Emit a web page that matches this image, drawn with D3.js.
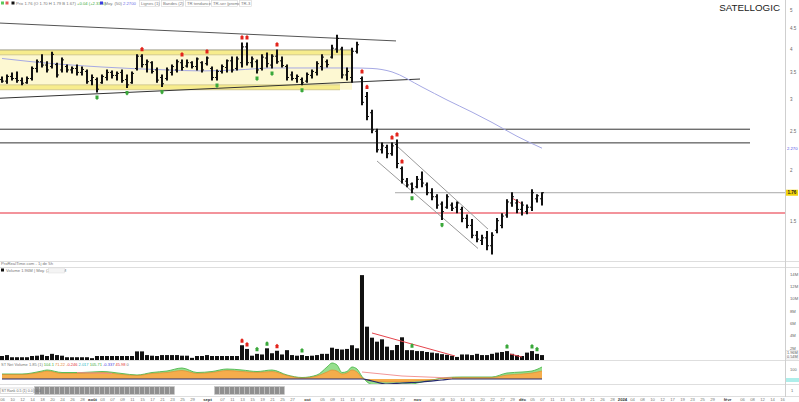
<!DOCTYPE html>
<html>
<head>
<meta charset="utf-8">
<script src="https://cdn.jsdelivr.net/npm/d3@7"></script>
<style>
body { margin: 0; background: #fff; }
svg { display: block; font-family: "Liberation Sans", Arial, sans-serif; }
</style>
</head>
<body>
<svg id="chart" width="799" height="402"></svg>
<script>
// ---- data ----
const ticker = "SATELLOGIC";

const opens = [3.36,3.33,3.42,3.38,3.34,3.30,3.38,3.58,3.72,3.65,
  3.62,3.66,3.55,3.62,3.55,3.58,3.50,3.52,3.34,3.36,
  3.30,3.40,3.50,3.44,3.50,3.36,3.30,3.58,3.84,3.66,
  3.70,3.55,3.40,3.38,3.50,3.55,3.70,3.63,3.70,3.62,
  3.70,3.68,3.58,3.40,3.52,3.60,3.74,3.58,3.70,4.05,
  3.70,3.72,3.58,3.80,3.65,3.84,3.74,3.62,3.45,3.38,
  3.36,3.33,3.44,3.50,3.62,3.72,3.82,4.00,4.00,3.45,
  3.40,3.95,3.38,3.05,2.78,2.50,2.25,2.28,2.20,2.32,
  2.02,1.88,1.85,1.82,1.90,1.84,1.76,1.72,1.65,1.62,
  1.64,1.62,1.60,1.52,1.46,1.38,1.34,1.36,1.30,1.42,
  1.46,1.55,1.66,1.66,1.60,1.58,1.62,1.70,1.70];
const highs = [3.41,3.45,3.49,3.51,3.39,3.41,3.61,3.76,3.87,3.72,
  3.93,3.69,3.80,3.65,3.61,3.65,3.61,3.55,3.45,3.39,
  3.45,3.55,3.53,3.51,3.55,3.45,3.51,3.87,3.87,3.76,
  3.72,3.59,3.45,3.59,3.65,3.76,3.76,3.76,3.72,3.80,
  3.72,3.82,3.61,3.55,3.65,3.76,3.82,3.82,4.14,4.14,
  3.82,3.76,3.87,3.91,3.87,3.98,3.82,3.65,3.51,3.45,
  3.39,3.49,3.55,3.72,3.87,3.76,4.09,4.33,4.04,3.59,
  4.02,4.16,3.41,3.12,2.82,2.53,2.34,2.31,2.34,2.38,
  2.04,1.91,1.86,1.93,1.98,1.86,1.80,1.74,1.67,1.74,
  1.66,1.67,1.62,1.55,1.51,1.41,1.38,1.41,1.40,1.52,
  1.56,1.69,1.76,1.69,1.67,1.64,1.79,1.74,1.76];
const lows = [3.31,3.29,3.35,3.31,3.26,3.29,3.35,3.51,3.61,3.51,
  3.59,3.41,3.51,3.51,3.49,3.45,3.45,3.29,3.26,3.13,
  3.29,3.35,3.39,3.35,3.31,3.21,3.29,3.55,3.61,3.51,
  3.49,3.31,3.23,3.35,3.45,3.51,3.55,3.61,3.59,3.55,
  3.51,3.65,3.35,3.35,3.49,3.51,3.51,3.55,3.61,3.65,
  3.61,3.49,3.55,3.61,3.59,3.69,3.61,3.35,3.35,3.31,
  3.26,3.31,3.39,3.45,3.55,3.61,3.80,3.93,3.39,3.35,
  3.31,3.91,2.91,2.67,2.48,2.22,2.21,2.15,2.18,2.03,
  1.86,1.82,1.76,1.81,1.82,1.74,1.69,1.61,1.51,1.61,
  1.59,1.57,1.49,1.44,1.36,1.33,1.31,1.27,1.24,1.40,
  1.44,1.53,1.63,1.57,1.55,1.56,1.59,1.67,1.64];
const closes = [3.33,3.42,3.38,3.34,3.29,3.38,3.58,3.72,3.65,3.55,
  3.88,3.45,3.76,3.55,3.58,3.50,3.56,3.32,3.40,3.18,
  3.42,3.50,3.44,3.48,3.34,3.26,3.48,3.84,3.66,3.72,
  3.52,3.35,3.28,3.55,3.62,3.72,3.60,3.70,3.62,3.78,
  3.55,3.80,3.40,3.52,3.62,3.74,3.55,3.78,4.05,3.70,
  3.78,3.55,3.82,3.68,3.84,3.72,3.64,3.40,3.38,3.42,
  3.30,3.46,3.52,3.68,3.82,3.66,4.02,4.25,3.45,3.52,
  3.95,4.10,2.95,2.72,2.52,2.25,2.30,2.20,2.30,2.08,
  1.90,1.84,1.80,1.90,1.86,1.76,1.72,1.64,1.58,1.72,
  1.61,1.66,1.52,1.46,1.38,1.35,1.36,1.30,1.38,1.50,
  1.54,1.67,1.72,1.60,1.64,1.62,1.76,1.73,1.76];

// volume, millions
const volumes = [0.65,0.80,0.45,0.45,0.45,0.45,0.65,0.70,0.85,0.65,
  1.00,0.80,0.70,0.45,0.45,0.45,0.45,0.45,0.30,0.65,
  0.65,0.65,0.65,0.65,0.65,0.65,0.65,1.40,1.40,0.80,
  0.70,0.65,0.80,0.80,0.80,0.80,0.70,0.70,0.35,0.65,
  0.65,0.80,0.65,0.65,0.65,0.65,0.65,0.65,2.40,1.80,
  0.70,1.00,0.90,1.90,1.10,1.50,0.90,1.60,0.80,0.70,
  0.80,0.65,0.70,0.80,1.00,1.00,2.00,1.80,1.70,1.80,
  2.40,1.90,13.8,5.42,3.63,2.98,3.36,2.17,1.60,2.44,
  3.69,1.60,1.60,1.45,1.45,1.30,1.20,1.10,0.95,0.85,
  0.70,0.50,0.90,0.90,0.80,1.00,0.80,0.80,1.00,1.20,
  1.30,1.45,1.00,0.80,0.65,1.20,1.45,1.00,0.80];

// moving average, read at a few bars
const maBars = [0, 6, 20, 33, 40, 47, 54, 70, 74, 78, 84, 89, 94, 98, 103, 108];
const maValues = [3.79, 3.72, 3.61, 3.55, 3.53, 3.55, 3.59, 3.59, 3.58, 3.51, 3.22, 2.99, 2.79, 2.63, 2.43, 2.27];

// drawn objects (bar index, price)
const rangeStrips = [[3.98, 3.87], [3.26, 3.17]];
const rangeEnd = [70, 67.6];
const upperTrend = [[-0.4, 4.64], [78.8, 4.19]];
const lowerTrend = [[-0.4, 3.02], [83.6, 3.37]];
const resistanceLevels = [2.53, 2.34];
const resistanceEnd = 149.6;
const supportLevel = 1.567;
const channelUpper = [[78.8, 2.31], [97.2, 1.43]];
const channelLower = [[75, 2.11], [95.2, 1.28]];
const shortTrend = [[102, 1.708], [104, 1.65]];
const lastLineStart = 78.6;

const sellSignals = [28, 36, 41, 48, 49, 55, 72, 73, 78, 79, 80];
const buySignals = [19, 25, 32, 43, 51, 54, 60, 82, 88];
const volSell = [48, 49, 55];
const volBuy = [51, 53, 60, 82, 101, 106, 107];
const volTrendA = [[74, 4.39], [90.6, 0.65]];
const volTrendB = [[101.6, 0.98], [104, 0.49]];

// net volume style indicator
const indBars = [0,4,8,9,12,16,20,24,27,30,33,36,39,42,45,48,51,54,57,60,63,65,66,67,68,69,70,71,72,74,77,80,83,86,89,92,95,98,101,104,106,108];
const indGreen = [5,5,8,9,6.5,6.5,7.5,5.5,4,6.5,8,11,6.5,7.5,10,9,7.5,9,4,1.5,4,12,16,14,6.5,7.5,12,10,2.5,-6,-9,-8,-4,-1,1.5,2,2,2,6,7,8,12];
const indOrange = [4.5,4.5,7,8,5.5,5.5,6.5,4.5,3.5,5.5,6.5,8.5,5.5,6.5,8.5,7.5,6.5,7.5,3.5,1,3,7,9,8,5,6,9,7,1.5,-2,-3,-3,-2,-1,1,1.5,1.5,1.5,4,5,6,8];
const navyBars = [0, 72, 74, 77, 80, 84, 88, 90, 108];
const navyValues = [0, 0, -2, -5, -4, -3, -1, 0, 0];
const signalA = [[15, 6.5], [22, 5.5]];
const signalB = [[72, 7], [80, 3], [90, 1]];
const rankRanges = [[7, 34], [43, 56]];

const priceTicks = [5, 4.5, 4, 3.5, 3, 2.5, 2, 1.5];
const volTicks = [2, 4, 6, 8, 10, 12, 14];
const monthNames = ["janv","févr","mars","avr","mai","juin","juil","août","sept","oct","nov","déc"];
const startDay = [2023, 6, 6];
const holidays = ["2023-09-04","2023-11-23","2023-12-25","2024-01-01","2024-01-15","2024-02-19"];
const totalSlots = 157;

// ---- layout ----
const svg = d3.select("#chart");
const plotRight = 785;
const priceBottom = 261;

const x = d3.scaleLinear().domain([-0.4, totalSlots - 0.4]).range([0, plotRight]);
const y = d3.scaleLog().domain([5, 1.5]).range([10, 220.7]);
const yVol = d3.scaleLinear().domain([0, 15.12]).range([360, 267]);
const yInd = d3.scaleLinear().domain([-6, 16]).range([385, 363]);

const defs = svg.append("defs");
function clip(id, x0, y0, w, h) {
    defs.append("clipPath").attr("id", id).append("rect")
        .attr("x", x0).attr("y", y0).attr("width", w).attr("height", h);
}
clip("cp-price", 0, 0, plotRight, priceBottom);
clip("cp-vol", 0, 268, plotRight, 92);
clip("cp-ind", 0, 361, plotRight, 23);

//Separators
[261.5, 267.5, 360.5, 384.5, 396.5].forEach(v => {
    svg.append("line").attr("x1", 0).attr("x2", 799).attr("y1", v).attr("y2", v)
        .attr("stroke", "#dedede").attr("stroke-width", 1);
});
svg.append("line").attr("x1", plotRight + 0.5).attr("x2", plotRight + 0.5)
    .attr("y1", 0).attr("y2", 397).attr("stroke", "#cfcfcf");

// ---- price panel ----
const price = svg.append("g").attr("clip-path", "url(#cp-price)");
const pt = d => [x(d[0]), y(d[1])];

// range band
price.append("rect").attr("x", x(-0.4)).attr("width", x(rangeEnd[0]) - x(-0.4))
    .attr("y", y(rangeStrips[0][0])).attr("height", y(rangeStrips[1][1]) - y(rangeStrips[0][0]))
    .attr("fill", "#fdf8d2");
rangeStrips.forEach((s, k) => {
    price.append("rect").attr("x", x(-0.4)).attr("width", x(rangeEnd[k]) - x(-0.4))
        .attr("y", y(s[0])).attr("height", y(s[1]) - y(s[0]))
        .attr("fill", "#f7ec8c");
    s.forEach((p, j) => {
        price.append("line").attr("x1", x(-0.4)).attr("x2", x(rangeEnd[k]))
            .attr("y1", y(p)).attr("y2", y(p))
            .attr("stroke", j === 0 && k === 0 ? "#8a8a7a" : "#c9c08a").attr("stroke-width", 0.8);
    });
});

// horizontal levels
resistanceLevels.forEach(p => {
    price.append("line").attr("x1", 0).attr("x2", x(resistanceEnd))
        .attr("y1", y(p)).attr("y2", y(p)).attr("stroke", "#333").attr("stroke-width", 1);
});
price.append("line").attr("x1", 0).attr("x2", plotRight)
    .attr("y1", y(supportLevel)).attr("y2", y(supportLevel))
    .attr("stroke", "#ef6f7a").attr("stroke-width", 1.5);
price.append("line").attr("x1", x(lastLineStart)).attr("x2", plotRight)
    .attr("y1", y(closes[closes.length - 1])).attr("y2", y(closes[closes.length - 1]))
    .attr("stroke", "#a8a8a8").attr("stroke-width", 1);

// trend lines
const seg = d3.line().x(d => pt(d)[0]).y(d => pt(d)[1]);
[[upperTrend, "#555", 1], [lowerTrend, "#333", 1],
 [channelUpper, "#9a9a9a", 1], [channelLower, "#9a9a9a", 1],
 [shortTrend, "#e0505a", 1]].forEach(([d, c, w]) => {
    price.append("path").attr("d", seg(d)).attr("fill", "none").attr("stroke", c).attr("stroke-width", w);
});

// moving average
const maLine = d3.line().curve(d3.curveMonotoneX).x((d, i) => x(maBars[i])).y(d => y(d));
price.append("path").attr("d", maLine(maValues)).attr("fill", "none")
    .attr("stroke", "#a6a9e4").attr("stroke-width", 1);

// OHLC bars
const bars = price.append("g").attr("stroke", "#111").attr("stroke-width", 2);
closes.forEach((c, i) => {
    const cx = Math.round(x(i));
    bars.append("line").attr("x1", cx).attr("x2", cx).attr("y1", y(highs[i]) - 0.5).attr("y2", y(lows[i]) + 0.5);
    bars.append("line").attr("x1", cx - 2).attr("x2", cx).attr("y1", y(opens[i])).attr("y2", y(opens[i])).attr("stroke-width", 1);
    bars.append("line").attr("x1", cx).attr("x2", cx + 2).attr("y1", y(c)).attr("y2", y(c)).attr("stroke-width", 1);
});

// signal markers
function marker(g, cx, tipY, up, color) {
    const d = up
        ? `M${cx - 1.5},${tipY + 4.5}V${tipY + 1.5}L${cx},${tipY}L${cx + 1.5},${tipY + 1.5}V${tipY + 4.5}Z`
        : `M${cx - 1.5},${tipY - 4.5}V${tipY - 1.5}L${cx},${tipY}L${cx + 1.5},${tipY - 1.5}V${tipY - 4.5}Z`;
    g.append("path").attr("d", d).attr("fill", color);
}
sellSignals.forEach(i => marker(price, Math.round(x(i)), y(highs[i]) - 8, true, "#e3241c"));
buySignals.forEach(i => marker(price, Math.round(x(i)), y(lows[i]) + 8, false, "#3aa83a"));

// price axis labels
const axisX = 790;
svg.append("g").attr("transform", `translate(${axisX},0)`)
    .call(d3.axisRight(y).tickValues(priceTicks).tickSize(0).tickPadding(0).tickFormat(d3.format("~g")))
    .call(g => g.select(".domain").remove())
    .selectAll("text").attr("font-size", 4.5).attr("fill", "#666").attr("font-family", "Liberation Sans, Arial");

const lastMa = maValues[maValues.length - 1];
svg.append("text").attr("x", plotRight + 2).attr("y", y(lastMa) + 1.5).attr("font-size", 4.2)
    .attr("fill", "#4e4ee6").text(d3.format(".3f")(lastMa));
const lastClose = closes[closes.length - 1];
svg.append("rect").attr("x", plotRight + 1).attr("y", y(lastClose) - 3).attr("width", 12).attr("height", 6)
    .attr("fill", "#f2d40c");
svg.append("text").attr("x", plotRight + 2.5).attr("y", y(lastClose) + 1.6).attr("font-size", 4.5)
    .attr("font-weight", "bold").attr("fill", "#222").text(d3.format(".2f")(lastClose));

// title
svg.append("rect").attr("x", 716).attr("y", 0).attr("width", 68).attr("height", 13).attr("fill", "#fff");
svg.append("text").attr("x", 780).attr("y", 10.5).attr("text-anchor", "end")
    .attr("font-size", 9.8).attr("fill", "#222").attr("font-family", "Liberation Sans, Arial").text(ticker);

// header legend
const hdr = svg.append("g").attr("font-size", 4.2).attr("fill", "#777");
hdr.append("rect").attr("x", 1).attr("y", 1.5).attr("width", 3).attr("height", 3).attr("fill", "#5bc85b");
hdr.append("rect").attr("x", 5.5).attr("y", 1.5).attr("width", 3).attr("height", 3).attr("fill", "#e35a5a");
hdr.append("rect").attr("x", 11.5).attr("y", 1.5).attr("width", 3).attr("height", 3).attr("fill", "#111");
const ht = hdr.append("text").attr("x", 16).attr("y", 4.6);
ht.append("tspan").text("Prix 1.76 (O 1.70 H 1.79 B 1.67) ");
ht.append("tspan").attr("fill", "#3aa83a").text("+0.04 (+2.33%)");
hdr.append("rect").attr("x", 100).attr("y", 1.5).attr("width", 3).attr("height", 3).attr("fill", "#3b3be0");
const mt = hdr.append("text").attr("x", 104.5).attr("y", 4.6);
mt.append("tspan").text("Moy. (50) ");
mt.append("tspan").attr("fill", "#6b6be8").text(d3.format(".4f")(lastMa));
[[139, 20, "Lignes (1)"], [161, 22, "Bandes (2)"], [185, 24, "TR tendance"], [211, 26, "TR-ser (promo)"], [239, 12, "TR-3"]]
    .forEach(([bx, bw, t]) => {
        hdr.append("rect").attr("x", bx + 0.5).attr("y", 0.5).attr("width", bw).attr("height", 6)
            .attr("fill", "#fff").attr("stroke", "#d4d4d4").attr("stroke-width", 0.6);
        hdr.append("text").attr("x", bx + 2).attr("y", 4.6).text(t);
    });

// ---- volume panel ----
const vol = svg.append("g").attr("clip-path", "url(#cp-vol)");
vol.append("rect").attr("x", x(71.55)).attr("width", x(72) - 2 - x(71.55) + 0.5)
    .attr("y", yVol(13.8)).attr("height", yVol(0) - yVol(13.8)).attr("fill", "#faf3c2");
vol.selectAll("rect.vb").data(volumes).enter().append("rect").attr("class", "vb")
    .attr("x", (d, i) => Math.round(x(i)) - 2).attr("width", 4)
    .attr("y", d => yVol(d)).attr("height", d => yVol(0) - yVol(d))
    .attr("fill", "#111");
const vseg = d3.line().x(d => x(d[0])).y(d => yVol(d[1]));
[volTrendA, volTrendB].forEach(d => {
    vol.append("path").attr("d", vseg(d)).attr("fill", "none").attr("stroke", "#e5454d").attr("stroke-width", 1);
});
volSell.forEach(i => marker(vol, Math.round(x(i)), yVol(volumes[i]) - 7, true, "#e3241c"));
volBuy.forEach(i => marker(vol, Math.round(x(i)), yVol(volumes[i]) - 7, true, "#3aa83a"));

svg.append("g").attr("transform", `translate(${axisX},0)`)
    .call(d3.axisRight(yVol).tickValues(volTicks).tickSize(0).tickPadding(0).tickFormat(d => d + "M"))
    .call(g => g.select(".domain").remove())
    .selectAll("text").attr("font-size", 4.2).attr("fill", "#666").attr("font-family", "Liberation Sans, Arial");
svg.append("rect").attr("x", plotRight + 1).attr("y", 350.5).attr("width", 12).attr("height", 8.5)
    .attr("fill", "#fff").attr("stroke", "#cfcfcf").attr("stroke-width", 0.5);
svg.append("text").attr("x", plotRight + 2).attr("y", 354).attr("font-size", 3.8).attr("fill", "#555").text("1.96M");
svg.append("text").attr("x", plotRight + 2).attr("y", 358).attr("font-size", 3.8).attr("fill", "#555").text("0.54M");

const vh = svg.append("g").attr("font-size", 4.2).attr("fill", "#777");
vh.append("text").attr("x", 1).attr("y", 265.2).text("ProRealTime.com - 1j de 5h");
vh.append("rect").attr("x", 1).attr("y", 268.5).attr("width", 3).attr("height", 3).attr("fill", "#111");
vh.append("text").attr("x", 6).attr("y", 271.5).text("Volume 1.96M | Moy. (20) 1.14M");
vh.append("rect").attr("x", 48.5).attr("y", 268).attr("width", 16).attr("height", 5)
    .attr("fill", "#f4f4f4").attr("stroke", "#ddd").attr("stroke-width", 0.5);

// ---- indicator panel ----
const ind = svg.append("g").attr("clip-path", "url(#cp-ind)");
const areaOf = vals => d3.area().curve(d3.curveMonotoneX)
    .x((d, i) => x(indBars[i])).y0(yInd(0)).y1(d => yInd(d))(vals);
ind.append("path").attr("d", areaOf(indGreen)).attr("fill", "#96df8e");
ind.append("path").attr("d", areaOf(indOrange)).attr("fill", "#f5ad4c");
ind.append("path").attr("d", d3.line().curve(d3.curveMonotoneX)
    .x((d, i) => x(indBars[i])).y(d => yInd(d))(indGreen))
    .attr("fill", "none").attr("stroke", "#4fb84f").attr("stroke-width", 0.9);
ind.append("path").attr("d", d3.line().curve(d3.curveMonotoneX)
    .x((d, i) => x(indBars[i])).y(d => yInd(d))(indOrange))
    .attr("fill", "none").attr("stroke", "#e0862a").attr("stroke-width", 0.6);
ind.append("path").attr("d", d3.line().curve(d3.curveMonotoneX)
    .x((d, i) => x(navyBars[i])).y(d => yInd(d))(navyValues))
    .attr("fill", "none").attr("stroke", "#23286e").attr("stroke-width", 1.2);
const iseg = d3.line().x(d => x(d[0])).y(d => yInd(d[1]));
[signalA, signalB].forEach(d => {
    ind.append("path").attr("d", iseg(d)).attr("fill", "none").attr("stroke", "#f08a8a").attr("stroke-width", 0.9);
});

const ih = svg.append("text").attr("x", 1).attr("y", 365.5).attr("font-size", 4).attr("fill", "#777");
[["ST Net Volume 1.85 (1) ", "#777"], ["104.1 ", "#3aa83a"], ["71.22 ", "#e0862a"], ["-0.246 ", "#d33"],
 ["2.017 ", "#2bb5c0"], ["105.71 ", "#3aa83a"], ["-0.337 ", "#3b3be0"], ["45.98 ", "#d33"], ["0", "#777"]]
    .forEach(([t, c]) => ih.append("tspan").attr("fill", c).text(t));
svg.append("text").attr("x", axisX).attr("y", 371).attr("font-size", 4).attr("fill", "#666").text("100");
svg.append("rect").attr("x", plotRight + 1).attr("y", 378).attr("width", 13).attr("height", 4).attr("fill", "#aeeeea");

// ---- rank panel ----
const rank = svg.append("g");
rankRanges.forEach(([a, b]) => {
    d3.range(a, b + 1).forEach(i => {
        rank.append("rect").attr("x", Math.round(x(i)) - 2.5).attr("y", 386.5).attr("width", 5).attr("height", 8)
            .attr("fill", "#8f8f8f").attr("stroke", "#c8c8c8").attr("stroke-width", 0.6);
    });
});
svg.append("rect").attr("x", 0.5).attr("y", 388).attr("width", 33).attr("height", 5.5)
    .attr("fill", "#fff").attr("stroke", "#bbb").attr("stroke-width", 0.5);
svg.append("text").attr("x", 1.5).attr("y", 392.2).attr("font-size", 3.6).attr("fill", "#666").text("ST Rank 0.5 (1) 0.0 | 0.0");
svg.append("text").attr("x", axisX + 1).attr("y", 392).attr("font-size", 4).attr("fill", "#666").text("1");

// ---- date axis ----
const fmtKey = d3.timeFormat("%Y-%m-%d");
const dates = [];
for (let d = new Date(startDay[0], startDay[1], startDay[2]); dates.length < totalSlots; d.setDate(d.getDate() + 1)) {
    const wd = d.getDay();
    if (wd === 0 || wd === 6 || holidays.includes(fmtKey(d))) continue;
    dates.push(new Date(d));
}
// one label every 2 sessions; an odd month start takes the slot after it and drops the one before
const monthStart = new Set();
dates.forEach((d, i) => { if (i > 0 && d.getMonth() !== dates[i - 1].getMonth()) monthStart.add(i); });
let labelIdx = d3.range(0, totalSlots, 2);
monthStart.forEach(m => {
    if (m % 2 === 1) labelIdx = labelIdx.filter(i => i !== m - 1 && i !== m + 1).concat([m]);
});
labelIdx.sort((a, b) => a - b);
svg.append("g").attr("transform", "translate(0,397)")
    .call(d3.axisBottom(x).tickValues(labelIdx).tickSize(0).tickPadding(1.5)
        .tickFormat(i => {
            const d = dates[i];
            if (!monthStart.has(i)) return d3.timeFormat("%d")(d);
            return d.getMonth() === 0 ? String(d.getFullYear()) : monthNames[d.getMonth()];
        }))
    .call(g => g.select(".domain").remove())
    .selectAll("text")
    .attr("font-size", 4.2).attr("font-family", "Liberation Sans, Arial")
    .attr("fill", i => monthStart.has(i) ? "#333" : "#777")
    .attr("font-weight", i => monthStart.has(i) ? "bold" : "normal");
</script>
</body>
</html>
